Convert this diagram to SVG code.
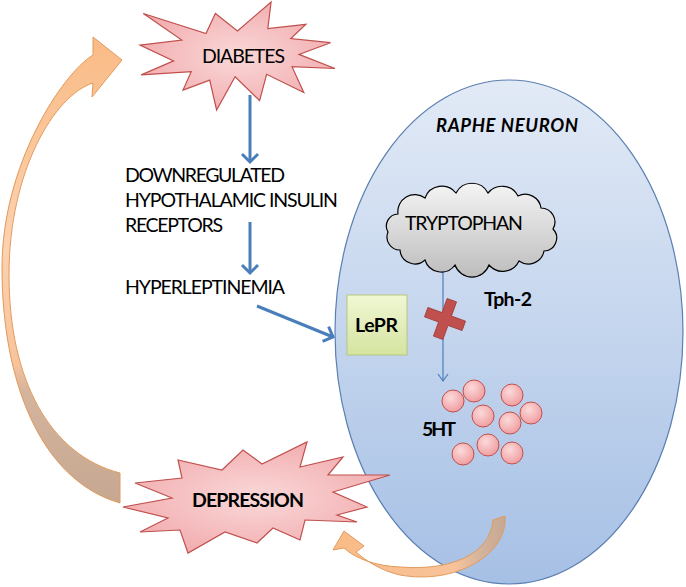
<svg xmlns="http://www.w3.org/2000/svg" width="686" height="587" viewBox="0 0 686 587">
<defs>
<style>
text{font-family:Lato,"Liberation Sans","Noto Sans",sans-serif;fill:#000}
.lbl{font-size:19.5px}
.b{font-weight:bold}
.burst{fill:url(#pinkG);stroke:#c0504d;stroke-width:1.2;stroke-linejoin:miter}
.blue{stroke:#4a7ebb;stroke-width:3;fill:none}
.thin{stroke:#4a7ebb;stroke-width:1.2;fill:none}
.ball{fill:url(#ballG);stroke:#c0504d;stroke-width:1}
</style>
<radialGradient id="pinkG" cx="0.5" cy="0.5" r="0.6">
<stop offset="0" stop-color="#fad8d8"/>
<stop offset="1" stop-color="#f1a8ab"/>
</radialGradient>
<radialGradient id="ballG" cx="0.4" cy="0.35" r="0.7">
<stop offset="0" stop-color="#fcdada"/>
<stop offset="1" stop-color="#ef9a9d"/>
</radialGradient>
<linearGradient id="cellG" x1="0" y1="0" x2="0" y2="1">
<stop offset="0" stop-color="#e2eaf6"/>
<stop offset="1" stop-color="#a6c0e5"/>
</linearGradient>
<linearGradient id="cloudG" x1="0" y1="0" x2="0" y2="1">
<stop offset="0" stop-color="#f4f4f4"/>
<stop offset="1" stop-color="#bdbdbd"/>
</linearGradient>
<linearGradient id="boxG" x1="0" y1="0" x2="0" y2="1">
<stop offset="0" stop-color="#f0f7d4"/>
<stop offset="1" stop-color="#d5e4a0"/>
</linearGradient>
<linearGradient id="bigArrG" gradientUnits="userSpaceOnUse" x1="0" y1="37" x2="0" y2="503">
<stop offset="0" stop-color="#f9bb86"/>
<stop offset="0.45" stop-color="#fcd2b0"/>
<stop offset="0.7" stop-color="#f8c39b"/>
<stop offset="0.76" stop-color="#d4b49c"/>
<stop offset="1" stop-color="#c6a791"/>
</linearGradient>
<linearGradient id="smArrG" gradientUnits="userSpaceOnUse" x1="333" y1="0" x2="506" y2="0">
<stop offset="0" stop-color="#f9bb86"/>
<stop offset="0.7" stop-color="#f8c39b"/>
<stop offset="0.85" stop-color="#d4b49c"/>
<stop offset="1" stop-color="#c6a791"/>
</linearGradient>
<marker id="ah" markerUnits="userSpaceOnUse" viewBox="0 0 20 20" refX="16" refY="10" markerWidth="20" markerHeight="20" orient="auto">
<path d="M8,2 L16,10 L8,18" fill="none" stroke="#4a7ebb" stroke-width="3"/>
</marker>
<marker id="ahs" markerUnits="userSpaceOnUse" viewBox="0 0 14 14" refX="12" refY="7" markerWidth="14" markerHeight="14" orient="auto">
<path d="M5,2 L12,7 L5,12" fill="none" stroke="#4a7ebb" stroke-width="1.2"/>
</marker>
</defs>

<rect width="686" height="587" fill="#ffffff"/>

<g id="feedback-arrow">
<path d="M120,503 L120,473 C50,455 9,380 9,275 C9,170 55,95 93,83 L92,97 L122,60 L93,37 L93,55 C62,74 2,165 2,268 C2,380 40,480 120,503 Z" fill="url(#bigArrG)" stroke="#e39a5a" stroke-width="1"/>
</g>

<g id="raphe-neuron">
<ellipse cx="509" cy="332" rx="174" ry="252" fill="url(#cellG)" stroke="#5b7fb2" stroke-width="1.2"/>
<text x="436" y="132" class="b" font-size="18.5" font-style="italic" textLength="142">RAPHE NEURON</text>
</g>

<g id="connectors">
<line x1="250" y1="95" x2="250" y2="162" class="blue" marker-end="url(#ah)"/>
<line x1="250" y1="222" x2="250" y2="273" class="blue" marker-end="url(#ah)"/>
<line x1="257" y1="306" x2="333" y2="337" class="blue" marker-end="url(#ah)"/>
<line x1="443" y1="266" x2="443" y2="381" class="thin" marker-end="url(#ahs)"/>
</g>

<g id="diabetes">
<polygon class="burst" points="237.5,31 271.1,2 267.8,28.6 305.9,24.3 290.8,38.6 330.5,42.7 299,54.4 335,68.5 292,66.7 303.8,92.5 266.6,74.3 259.6,100.7 235.1,76.7 216.6,110 209.7,80.1 183,90.1 191.2,71.7 141.2,74.9 173.6,60.9 140,45.1 181.8,40.1 143.3,13.5 206,33.6 215.4,13.5"/>
<text x="202" y="63" class="lbl" font-size="18.5" textLength="83">DIABETES</text>
</g>

<g id="downregulated">
<text x="125" y="182" class="lbl" textLength="160">DOWNREGULATED</text>
<text x="125" y="207" class="lbl" textLength="213">HYPOTHALAMIC INSULIN</text>
<text x="125" y="232" class="lbl" textLength="98">RECEPTORS</text>
</g>

<g id="hyperleptinemia">
<text x="125" y="294" class="lbl" textLength="160">HYPERLEPTINEMIA</text>
</g>

<g id="tryptophan">
<path d="M398,214 A17,17 0 0 1 425,198 A18,18 0 0 1 456,193 A18,18 0 0 1 488,193 A18,18 0 0 1 518,196 A16,16 0 0 1 541,208 A14,14 0 0 1 553,229 A13,13 0 0 1 544,251 A16,16 0 0 1 519,261 A18,18 0 0 1 489,265 A18,18 0 0 1 455,265 A17,17 0 0 1 425,260 A15,15 0 0 1 400,250 A13,13 0 0 1 388,232 A12,12 0 0 1 398,214 Z" fill="url(#cloudG)" stroke="#000" stroke-width="1.2"/>
<text x="405" y="230" class="lbl" font-size="18.5" textLength="118">TRYPTOPHAN</text>
</g>

<g id="lepr">
<rect x="347" y="295" width="60" height="60" fill="url(#boxG)" stroke="#b3c77e" stroke-width="1"/>
<text x="355" y="332" class="lbl b" font-size="19" textLength="43">LePR</text>
</g>

<g id="tph2-block">
<path transform="translate(445,319) rotate(20)" d="M-5,-20 H5 V-5 H20 V5 H5 V20 H-5 V5 H-20 V-5 H-5 Z" fill="#c0504d" stroke="#a03c3a" stroke-width="0.8"/>
<text x="484" y="306" class="lbl b" font-size="18" textLength="48">Tph-2</text>
</g>

<g id="serotonin">
<circle class="ball" cx="453" cy="401" r="11"/>
<circle class="ball" cx="474" cy="391" r="11"/>
<circle class="ball" cx="512" cy="395" r="11"/>
<circle class="ball" cx="483" cy="416" r="11"/>
<circle class="ball" cx="531" cy="413" r="11"/>
<circle class="ball" cx="510" cy="423" r="11"/>
<circle class="ball" cx="488" cy="445" r="11"/>
<circle class="ball" cx="512" cy="453" r="11"/>
<circle class="ball" cx="463" cy="454" r="11"/>
<text x="422" y="436" class="lbl b" font-size="18" textLength="34">5HT</text>
</g>

<g id="depression">
<polygon class="burst" points="123,507 172,498 135,483 182,478 178,460 222,470 243,450 262,464 307,442 300,467 343,457 328,475 390,475 333,492 367,507 337,515 357,522 305,520 300,540 273,528 257,543 225,532 188,553 180,530 140,532 168,518"/>
<text x="192" y="507" class="lbl b" font-size="20" textLength="112">DEPRESSION</text>
</g>

<g id="return-arrow">
<path d="M493,520 L505,516 C508,555 455,585 400,575 C382,571 366,561 356,552 L364,546 L344,531 L333,550 L344,548 C356,559 376,566 400,567 C450,571 490,555 493,520 Z" fill="url(#smArrG)" stroke="#e39a5a" stroke-width="1"/>
</g>
</svg>
